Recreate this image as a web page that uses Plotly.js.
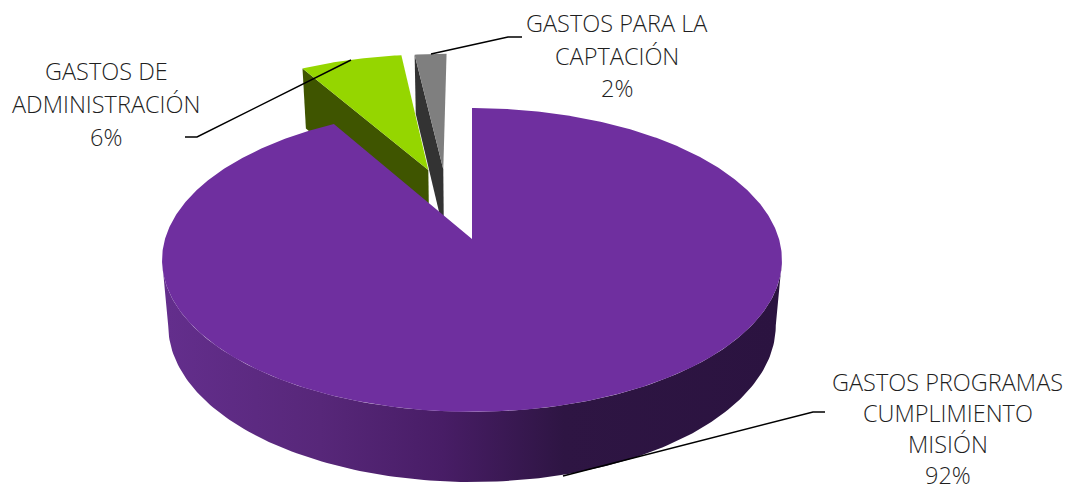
<!DOCTYPE html>
<html>
<head>
<meta charset="utf-8">
<script src="https://cdn.plot.ly/plotly-3.0.1.min.js"></script>
<style>html,body{margin:0;padding:0;background:#fff;overflow:hidden}#chart{width:1066px;height:491px}</style>
</head>
<body>
<div id="chart"></div>
<script>
// Data
const categories = ['GASTOS PROGRAMAS CUMPLIMIENTO MISIÓN', 'GASTOS DE ADMINISTRACIÓN', 'GASTOS PARA LA CAPTACIÓN'];
const shares = [91.6, 6.4, 2.0];
const labelLines = [
  ['GASTOS PROGRAMAS', 'CUMPLIMIENTO', 'MISIÓN', '92%'],
  ['GASTOS DE', 'ADMINISTRACIÓN', '6%'],
  ['GASTOS PARA LA', 'CAPTACIÓN', '2%']
];
const topColors = ['#6f2f9f', '#95d600', '#7f7f7f'];
const wallColors = ['#4a1f6b', '#3f5500', '#333333'];
const explodeX = [0, -0.152, -0.1];
const explodeY = [0, 0.495, 0.5];
const labelX = [947.5, 106, 617];
const labelY = [[382, 413, 444, 475], [71, 104, 137], [23, 56, 88]];

// 3D pie projection: perspective-tilted plane
const apexX = 472, apexY = 239, scaleX = 307, scaleY = 149, persp = 0.138;
const depth = 65, depthScaleX = 0.98, depthScaleY = 1.03;
const silhouetteDeg = Math.acos(-persp) * 180 / Math.PI;

function project(X, Y, low) {
  const d = 1 + persp * Y;
  const x = scaleX * X / d, y = scaleY * Y / d;
  return low ? [apexX + x * depthScaleX, apexY + depth - y * depthScaleY]
             : [apexX + x, apexY - y];
}
function rim(i, deg, low) {
  const t = deg * Math.PI / 180;
  return project(explodeX[i] + Math.sin(t), explodeY[i] + Math.cos(t), low);
}
function poly(points, color, name, extra) {
  return Object.assign({
    type: 'scatter', mode: 'lines', name: name, hoverinfo: 'skip', showlegend: false,
    x: points.map(p => p[0]), y: points.map(p => p[1]),
    fill: 'toself', fillcolor: color, line: {width: 0, color: color}
  }, extra || {});
}

const total = shares.reduce((a, b) => a + b, 0);
const startDeg = [], endDeg = [];
let acc = 0;
shares.forEach((v, i) => { startDeg[i] = acc / total * 360; acc += v; endDeg[i] = acc / total * 360; });

function topFace(i) {
  const pts = [project(explodeX[i], explodeY[i], false)];
  for (let a = startDeg[i]; a < endDeg[i]; a += 0.5) pts.push(rim(i, a, false));
  pts.push(rim(i, endDeg[i], false));
  pts.push(pts[0]);
  return pts;
}
function cutWall(i) {
  return [
    rim(i, startDeg[i], false),
    project(explodeX[i], explodeY[i], false),
    project(explodeX[i], explodeY[i], true),
    rim(i, startDeg[i], true),
    rim(i, startDeg[i], false)
  ];
}
function frontWall(i) {
  const up = [], dn = [];
  for (let a = silhouetteDeg; a <= 360 - silhouetteDeg; a += 1) { up.push(rim(i, a, false)); dn.push(rim(i, a, true)); }
  return up.concat(dn.reverse()).concat([up[0]]);
}

const traces = [
  poly(cutWall(2), wallColors[2], categories[2] + ' lado'),
  poly(topFace(2), topColors[2], categories[2]),
  poly(cutWall(1), wallColors[1], categories[1] + ' lado'),
  poly(topFace(1), topColors[1], categories[1]),
  poly(frontWall(0), wallColors[0], categories[0] + ' lado', {
    fillgradient: {
      type: 'horizontal', start: 168, stop: 777,
      colorscale: [[0, '#632e8c'], [0.25, '#572779'], [0.45, '#481d66'], [0.65, '#2e1543'], [1, '#2b1340']]
    }
  }),
  poly(topFace(0), topColors[0], categories[0])
];

const annotations = [];
labelLines.forEach((lines, i) => lines.forEach((t, j) => annotations.push({
  x: labelX[i], y: labelY[i][j], xref: 'x', yref: 'y', text: t, showarrow: false,
  xanchor: 'center', yanchor: 'middle',
  font: {family: '"Open Sans", sans-serif', size: 23.5, weight: 300, color: '#1f1f1f'}
})));

const leader = d => ({type: 'path', path: d, xref: 'x', yref: 'y', line: {color: '#000', width: 1.5}, layer: 'above'});

Plotly.newPlot('chart', traces, {
  width: 1066, height: 491,
  margin: {l: 0, r: 0, t: 0, b: 0},
  paper_bgcolor: '#fff', plot_bgcolor: '#fff',
  showlegend: false,
  xaxis: {range: [0, 1066], visible: false, fixedrange: true},
  yaxis: {range: [491, 0], visible: false, fixedrange: true},
  annotations: annotations,
  shapes: [
    leader('M431,54 L508,37 L522,37'),
    leader('M351,60 L197,137 L185,137'),
    leader('M563,476 L813,412 L825,412')
  ]
}, {displayModeBar: false, staticPlot: true});
</script>
</body>
</html>
